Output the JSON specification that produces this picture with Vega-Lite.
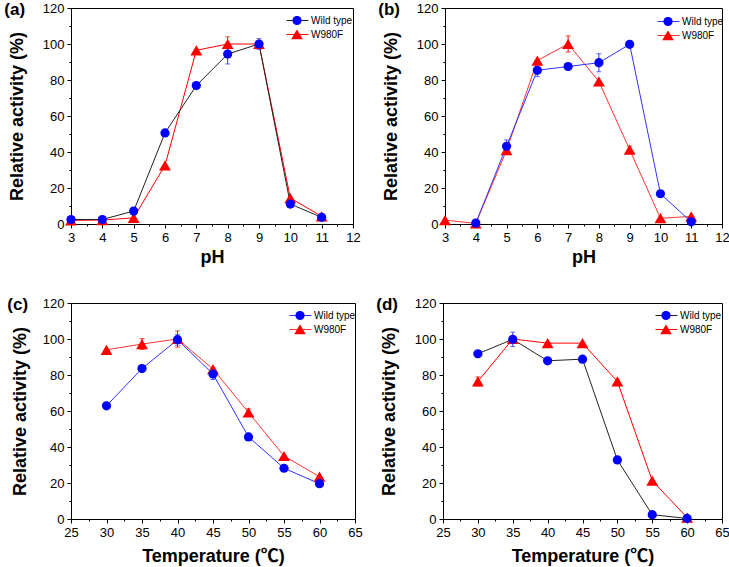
{
  "$schema": "https://vega.github.io/schema/vega-lite/v6.json",
  "padding": {"left": 3, "top": 0, "right": 0, "bottom": 0},
  "background": "white",
  "config": {
    "font": "Liberation Sans",
    "view": {"stroke": "black", "strokeWidth": 1},
    "axis": {"labelFont": "Liberation Sans", "labelFontSize": 13, "labelColor": "#000", "titleFont": "Liberation Sans, Noto Sans CJK SC", "titleFontSize": 18, "titleFontWeight": "bold", "titleColor": "#000", "tickColor": "#000", "domainColor": "#000", "tickSize": 4, "grid": false, "labelPadding": 3, "labelFlush": false, "labelOverlap": false},
    "axisY": {"titlePadding": 16},
    "axisX": {"titlePadding": 4},
    "title": {"font": "Liberation Sans", "fontSize": 17, "fontWeight": "bold", "color": "#000", "anchor": "start", "frame": "bounds", "baseline": "alphabetic", "offset": -17, "dx": -4}
  },
  "datasets": {
    "d": [
      {"panel": "a", "series": "W980F", "x": 3, "y": 2.0},
      {"panel": "a", "series": "W980F", "x": 4, "y": 2.2},
      {"panel": "a", "series": "W980F", "x": 5, "y": 3.4},
      {"panel": "a", "series": "W980F", "x": 6, "y": 32.6},
      {"panel": "a", "series": "W980F", "x": 7, "y": 96.5},
      {"panel": "a", "series": "W980F", "x": 8, "y": 100, "err": 4},
      {"panel": "a", "series": "W980F", "x": 9, "y": 100},
      {"panel": "a", "series": "W980F", "x": 10, "y": 14.4},
      {"panel": "a", "series": "W980F", "x": 11, "y": 4.3},
      {"panel": "a", "series": "Wild type", "x": 3, "y": 2.5},
      {"panel": "a", "series": "Wild type", "x": 4, "y": 2.5},
      {"panel": "a", "series": "Wild type", "x": 5, "y": 7.2},
      {"panel": "a", "series": "Wild type", "x": 6, "y": 50.6},
      {"panel": "a", "series": "Wild type", "x": 7, "y": 76.9},
      {"panel": "a", "series": "Wild type", "x": 8, "y": 94.4, "err": 5.5},
      {"panel": "a", "series": "Wild type", "x": 9, "y": 100, "err": 3},
      {"panel": "a", "series": "Wild type", "x": 10, "y": 11.1},
      {"panel": "a", "series": "Wild type", "x": 11, "y": 3.7},

      {"panel": "b", "series": "W980F", "x": 3, "y": 2.2},
      {"panel": "b", "series": "W980F", "x": 4, "y": 0.3},
      {"panel": "b", "series": "W980F", "x": 5, "y": 41, "err": 2},
      {"panel": "b", "series": "W980F", "x": 6, "y": 90.8},
      {"panel": "b", "series": "W980F", "x": 7, "y": 100, "err": 4.5},
      {"panel": "b", "series": "W980F", "x": 8, "y": 79.2},
      {"panel": "b", "series": "W980F", "x": 9, "y": 41.3, "err": 2},
      {"panel": "b", "series": "W980F", "x": 10, "y": 3.2},
      {"panel": "b", "series": "W980F", "x": 11, "y": 4.2},
      {"panel": "b", "series": "Wild type", "x": 4, "y": 0.5},
      {"panel": "b", "series": "Wild type", "x": 5, "y": 43.2, "err": 3.5},
      {"panel": "b", "series": "Wild type", "x": 6, "y": 85.4, "err": 3.5},
      {"panel": "b", "series": "Wild type", "x": 7, "y": 87.5},
      {"panel": "b", "series": "Wild type", "x": 8, "y": 89.6, "err": 5},
      {"panel": "b", "series": "Wild type", "x": 9, "y": 99.8},
      {"panel": "b", "series": "Wild type", "x": 10, "y": 16.8},
      {"panel": "b", "series": "Wild type", "x": 11, "y": 1.2},

      {"panel": "c", "series": "W980F", "x": 30, "y": 94},
      {"panel": "c", "series": "W980F", "x": 35, "y": 97.2, "err": 3},
      {"panel": "c", "series": "W980F", "x": 40, "y": 100, "err": 4.5},
      {"panel": "c", "series": "W980F", "x": 45, "y": 83.3},
      {"panel": "c", "series": "W980F", "x": 50, "y": 59.2, "err": 2},
      {"panel": "c", "series": "W980F", "x": 55, "y": 35},
      {"panel": "c", "series": "W980F", "x": 60, "y": 23.5},
      {"panel": "c", "series": "Wild type", "x": 30, "y": 62.9},
      {"panel": "c", "series": "Wild type", "x": 35, "y": 83.6},
      {"panel": "c", "series": "Wild type", "x": 40, "y": 99.6, "err": 3},
      {"panel": "c", "series": "Wild type", "x": 45, "y": 80.5, "err": 3},
      {"panel": "c", "series": "Wild type", "x": 50, "y": 45.6},
      {"panel": "c", "series": "Wild type", "x": 55, "y": 28.2},
      {"panel": "c", "series": "Wild type", "x": 60, "y": 19.6},

      {"panel": "d", "series": "W980F", "x": 30, "y": 76.4, "err": 2.5},
      {"panel": "d", "series": "W980F", "x": 35, "y": 100},
      {"panel": "d", "series": "W980F", "x": 40, "y": 97.7},
      {"panel": "d", "series": "W980F", "x": 45, "y": 97.7},
      {"panel": "d", "series": "W980F", "x": 50, "y": 76.4},
      {"panel": "d", "series": "W980F", "x": 55, "y": 21.3},
      {"panel": "d", "series": "W980F", "x": 60, "y": 0.8},
      {"panel": "d", "series": "Wild type", "x": 30, "y": 91.8},
      {"panel": "d", "series": "Wild type", "x": 35, "y": 99.8, "err": 4},
      {"panel": "d", "series": "Wild type", "x": 40, "y": 87.9},
      {"panel": "d", "series": "Wild type", "x": 45, "y": 88.8},
      {"panel": "d", "series": "Wild type", "x": 50, "y": 32.8},
      {"panel": "d", "series": "Wild type", "x": 55, "y": 2.4},
      {"panel": "d", "series": "Wild type", "x": 60, "y": 0.3}
    ]
  },
  "spacing": 28,
  "resolve": {"scale": {"stroke": "independent", "fill": "independent", "shape": "independent", "size": "independent", "color": "independent"}},
  "vconcat": [
    {
      "spacing": 16,
      "resolve": {"scale": {"stroke": "independent", "fill": "independent", "shape": "independent", "size": "independent", "color": "independent"}},
      "hconcat": [
        {
          "width": 282, "height": 216,
          "data": {"name": "d"},
          "transform": [{"filter": "datum.panel == 'a'"}],
          "title": {"text": "(a)"},
          "resolve": {"axis": {"x": "independent", "y": "independent"}},
          "layer": [
            {
              "mark": {"type": "line", "strokeWidth": 1},
              "encoding": {
                "x": {"field": "x", "type": "quantitative", "scale": {"domain": [3, 12], "nice": false, "zero": false}, "axis": {"title": "pH", "values": [3, 4, 5, 6, 7, 8, 9, 10, 11, 12], "format": "d"}},
                "y": {"field": "y", "type": "quantitative", "scale": {"domain": [0, 120], "nice": false}, "axis": {"title": "Relative activity (%)", "values": [0, 20, 40, 60, 80, 100, 120]}},
                "stroke": {"field": "series", "type": "nominal", "scale": {"range": ["#ff0000", "#222222"]},
                  "legend": {"values": ["Wild type", "W980F"], "orient": "none", "legendX": 215, "legendY": 8, "title": null, "symbolType": "stroke", "symbolSize": 484, "symbolStrokeWidth": 1, "labelFont": "Liberation Sans", "labelFontSize": 10, "labelColor": "#000", "labelOffset": 2, "clipHeight": 9, "rowPadding": 3, "padding": 0}}
              }
            },
            {
              "mark": {"type": "errorbar", "ticks": {"size": 5}, "thickness": 1},
              "transform": [{"filter": "datum.err > 0"}],
              "encoding": {
                "x": {"field": "x", "type": "quantitative", "axis": null},
                "y": {"field": "y", "type": "quantitative", "axis": null},
                "yError": {"field": "err"},
                "color": {"field": "series", "type": "nominal", "scale": {"domain": ["W980F", "Wild type"], "range": ["#ff0000", "#3333ff"]}, "legend": null}
              }
            },
            {
              "mark": {"type": "point", "filled": true, "opacity": 1},
              "encoding": {
                "x": {"field": "x", "type": "quantitative", "axis": {"values": [3.5, 4.5, 5.5, 6.5, 7.5, 8.5, 9.5, 10.5, 11.5], "labels": false, "tickSize": 2, "domain": false, "title": null, "orient": "bottom"}},
                "y": {"field": "y", "type": "quantitative", "axis": {"values": [10, 30, 50, 70, 90, 110], "labels": false, "tickSize": 2, "domain": false, "title": null, "orient": "left"}},
                "fill": {"field": "series", "type": "nominal", "scale": {"domain": ["Wild type", "W980F"], "range": ["#0000ff", "#ff0000"]},
                  "legend": {"orient": "none", "legendX": 220, "legendY": 8, "title": null, "labelExpr": "''", "clipHeight": 9, "rowPadding": 3, "padding": 0, "symbolStrokeWidth": 0}},
                "shape": {"field": "series", "type": "nominal", "scale": {"domain": ["Wild type", "W980F"], "range": ["circle", "triangle-up"]}},
                "size": {"field": "series", "type": "nominal", "scale": {"type": "ordinal", "domain": ["Wild type", "W980F"], "range": [85, 140]}}
              }
            }
          ]
        },
        {
          "width": 277, "height": 216,
          "data": {"name": "d"},
          "transform": [{"filter": "datum.panel == 'b'"}],
          "title": {"text": "(b)"},
          "resolve": {"axis": {"x": "independent", "y": "independent"}},
          "layer": [
            {
              "mark": {"type": "line", "strokeWidth": 1},
              "encoding": {
                "x": {"field": "x", "type": "quantitative", "scale": {"domain": [3, 12], "nice": false, "zero": false}, "axis": {"title": "pH", "values": [3, 4, 5, 6, 7, 8, 9, 10, 11, 12], "format": "d"}},
                "y": {"field": "y", "type": "quantitative", "scale": {"domain": [0, 120], "nice": false}, "axis": {"title": "Relative activity (%)", "values": [0, 20, 40, 60, 80, 100, 120]}},
                "stroke": {"field": "series", "type": "nominal", "scale": {"range": ["#ff3333", "#3333ff"]},
                  "legend": {"values": ["Wild type", "W980F"], "orient": "none", "legendX": 212, "legendY": 9, "title": null, "symbolType": "stroke", "symbolSize": 484, "symbolStrokeWidth": 1, "labelFont": "Liberation Sans", "labelFontSize": 10, "labelColor": "#000", "labelOffset": 2, "clipHeight": 9, "rowPadding": 3, "padding": 0}}
              }
            },
            {
              "mark": {"type": "errorbar", "ticks": {"size": 5}, "thickness": 1},
              "transform": [{"filter": "datum.err > 0"}],
              "encoding": {
                "x": {"field": "x", "type": "quantitative", "axis": null},
                "y": {"field": "y", "type": "quantitative", "axis": null},
                "yError": {"field": "err"},
                "color": {"field": "series", "type": "nominal", "scale": {"domain": ["W980F", "Wild type"], "range": ["#ff0000", "#3333ff"]}, "legend": null}
              }
            },
            {
              "mark": {"type": "point", "filled": true, "opacity": 1},
              "encoding": {
                "x": {"field": "x", "type": "quantitative", "axis": {"values": [3.5, 4.5, 5.5, 6.5, 7.5, 8.5, 9.5, 10.5, 11.5], "labels": false, "tickSize": 2, "domain": false, "title": null, "orient": "bottom"}},
                "y": {"field": "y", "type": "quantitative", "axis": {"values": [10, 30, 50, 70, 90, 110], "labels": false, "tickSize": 2, "domain": false, "title": null, "orient": "left"}},
                "fill": {"field": "series", "type": "nominal", "scale": {"domain": ["Wild type", "W980F"], "range": ["#0000ff", "#ff0000"]},
                  "legend": {"orient": "none", "legendX": 217, "legendY": 9, "title": null, "labelExpr": "''", "clipHeight": 9, "rowPadding": 3, "padding": 0, "symbolStrokeWidth": 0}},
                "shape": {"field": "series", "type": "nominal", "scale": {"domain": ["Wild type", "W980F"], "range": ["circle", "triangle-up"]}},
                "size": {"field": "series", "type": "nominal", "scale": {"type": "ordinal", "domain": ["Wild type", "W980F"], "range": [85, 140]}}
              }
            }
          ]
        }
      ]
    },
    {
      "spacing": 12,
      "resolve": {"scale": {"stroke": "independent", "fill": "independent", "shape": "independent", "size": "independent", "color": "independent"}},
      "hconcat": [
        {
          "width": 284, "height": 216,
          "data": {"name": "d"},
          "transform": [{"filter": "datum.panel == 'c'"}],
          "title": {"text": "(c)"},
          "resolve": {"axis": {"x": "independent", "y": "independent"}},
          "layer": [
            {
              "mark": {"type": "line", "strokeWidth": 1},
              "encoding": {
                "x": {"field": "x", "type": "quantitative", "scale": {"domain": [25, 65], "nice": false, "zero": false}, "axis": {"title": "Temperature (℃)", "values": [25, 30, 35, 40, 45, 50, 55, 60, 65], "titlePadding": 8}},
                "y": {"field": "y", "type": "quantitative", "scale": {"domain": [0, 120], "nice": false}, "axis": {"title": "Relative activity (%)", "values": [0, 20, 40, 60, 80, 100, 120], "titlePadding": 13}},
                "stroke": {"field": "series", "type": "nominal", "scale": {"range": ["#ff3333", "#3333ff"]},
                  "legend": {"values": ["Wild type", "W980F"], "orient": "none", "legendX": 218, "legendY": 8, "title": null, "symbolType": "stroke", "symbolSize": 484, "symbolStrokeWidth": 1, "labelFont": "Liberation Sans", "labelFontSize": 10, "labelColor": "#000", "labelOffset": 2, "clipHeight": 9, "rowPadding": 3, "padding": 0}}
              }
            },
            {
              "mark": {"type": "errorbar", "ticks": {"size": 5}, "thickness": 1},
              "transform": [{"filter": "datum.err > 0"}],
              "encoding": {
                "x": {"field": "x", "type": "quantitative", "axis": null},
                "y": {"field": "y", "type": "quantitative", "axis": null},
                "yError": {"field": "err"},
                "color": {"field": "series", "type": "nominal", "scale": {"domain": ["W980F", "Wild type"], "range": ["#ff0000", "#3333ff"]}, "legend": null}
              }
            },
            {
              "mark": {"type": "point", "filled": true, "opacity": 1},
              "encoding": {
                "x": {"field": "x", "type": "quantitative", "axis": {"values": [27.5, 32.5, 37.5, 42.5, 47.5, 52.5, 57.5, 62.5], "labels": false, "tickSize": 2, "domain": false, "title": null, "orient": "bottom"}},
                "y": {"field": "y", "type": "quantitative", "axis": {"values": [10, 30, 50, 70, 90, 110], "labels": false, "tickSize": 2, "domain": false, "title": null, "orient": "left"}},
                "fill": {"field": "series", "type": "nominal", "scale": {"domain": ["Wild type", "W980F"], "range": ["#0000ff", "#ff0000"]},
                  "legend": {"orient": "none", "legendX": 223, "legendY": 8, "title": null, "labelExpr": "''", "clipHeight": 9, "rowPadding": 3, "padding": 0, "symbolStrokeWidth": 0}},
                "shape": {"field": "series", "type": "nominal", "scale": {"domain": ["Wild type", "W980F"], "range": ["circle", "triangle-up"]}},
                "size": {"field": "series", "type": "nominal", "scale": {"type": "ordinal", "domain": ["Wild type", "W980F"], "range": [85, 140]}}
              }
            }
          ]
        },
        {
          "width": 279, "height": 216,
          "data": {"name": "d"},
          "transform": [{"filter": "datum.panel == 'd'"}],
          "title": {"text": "(d)"},
          "resolve": {"axis": {"x": "independent", "y": "independent"}},
          "layer": [
            {
              "mark": {"type": "line", "strokeWidth": 1},
              "encoding": {
                "x": {"field": "x", "type": "quantitative", "scale": {"domain": [25, 65], "nice": false, "zero": false}, "axis": {"title": "Temperature (℃)", "values": [25, 30, 35, 40, 45, 50, 55, 60, 65], "titlePadding": 8}},
                "y": {"field": "y", "type": "quantitative", "scale": {"domain": [0, 120], "nice": false}, "axis": {"title": "Relative activity (%)", "values": [0, 20, 40, 60, 80, 100, 120]}},
                "stroke": {"field": "series", "type": "nominal", "scale": {"range": ["#ff0000", "#222222"]},
                  "legend": {"values": ["Wild type", "W980F"], "orient": "none", "legendX": 212, "legendY": 8, "title": null, "symbolType": "stroke", "symbolSize": 484, "symbolStrokeWidth": 1, "labelFont": "Liberation Sans", "labelFontSize": 10, "labelColor": "#000", "labelOffset": 2, "clipHeight": 9, "rowPadding": 3, "padding": 0}}
              }
            },
            {
              "mark": {"type": "errorbar", "ticks": {"size": 5}, "thickness": 1},
              "transform": [{"filter": "datum.err > 0"}],
              "encoding": {
                "x": {"field": "x", "type": "quantitative", "axis": null},
                "y": {"field": "y", "type": "quantitative", "axis": null},
                "yError": {"field": "err"},
                "color": {"field": "series", "type": "nominal", "scale": {"domain": ["W980F", "Wild type"], "range": ["#ff0000", "#3333ff"]}, "legend": null}
              }
            },
            {
              "mark": {"type": "point", "filled": true, "opacity": 1},
              "encoding": {
                "x": {"field": "x", "type": "quantitative", "axis": {"values": [27.5, 32.5, 37.5, 42.5, 47.5, 52.5, 57.5, 62.5], "labels": false, "tickSize": 2, "domain": false, "title": null, "orient": "bottom"}},
                "y": {"field": "y", "type": "quantitative", "axis": {"values": [10, 30, 50, 70, 90, 110], "labels": false, "tickSize": 2, "domain": false, "title": null, "orient": "left"}},
                "fill": {"field": "series", "type": "nominal", "scale": {"domain": ["Wild type", "W980F"], "range": ["#0000ff", "#ff0000"]},
                  "legend": {"orient": "none", "legendX": 217, "legendY": 8, "title": null, "labelExpr": "''", "clipHeight": 9, "rowPadding": 3, "padding": 0, "symbolStrokeWidth": 0}},
                "shape": {"field": "series", "type": "nominal", "scale": {"domain": ["Wild type", "W980F"], "range": ["circle", "triangle-up"]}},
                "size": {"field": "series", "type": "nominal", "scale": {"type": "ordinal", "domain": ["Wild type", "W980F"], "range": [85, 140]}}
              }
            }
          ]
        }
      ]
    }
  ]
}
